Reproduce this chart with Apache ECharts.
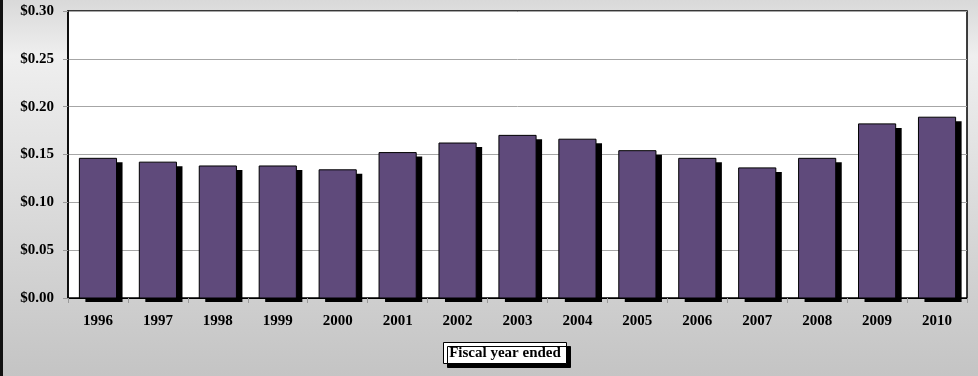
<!DOCTYPE html>
<html>
<head>
<meta charset="utf-8">
<script src="https://cdn.jsdelivr.net/npm/echarts@6/dist/echarts.min.js"></script>
<style>
  html, body { margin: 0; padding: 0; }
  #chart { width: 978px; height: 376px; }
</style>
</head>
<body>
<div id="chart"></div>
<script>
// Fiscal years shown along the category axis
const years = ['1996', '1997', '1998', '1999', '2000', '2001', '2002', '2003',
               '2004', '2005', '2006', '2007', '2008', '2009', '2010'];
// Amount per year, in dollars
const amounts = [0.146, 0.142, 0.138, 0.138, 0.134, 0.152, 0.162, 0.170,
                 0.166, 0.154, 0.146, 0.136, 0.146, 0.182, 0.189];
// Value axis ticks
const yTicks = [0, 0.05, 0.10, 0.15, 0.20, 0.25, 0.30];
const axisTitle = 'Fiscal year ended';

const serif = '"Liberation Serif", "Times New Roman", serif';

const chart = echarts.init(document.getElementById('chart'), null, { renderer: 'canvas' });

// Bar with a solid drop shadow offset to the lower right
function renderBar(params, api) {
  const idx = api.value(0);
  const val = api.value(1);
  const top = api.coord([idx, val]);
  const base = api.coord([idx, 0]);
  const w = api.size([1, 0])[0] * 0.62;
  const x0 = top[0] - w / 2;
  const h = base[1] - top[1];
  return {
    type: 'group',
    children: [{
      type: 'rect',
      shape: { x: x0 + 6, y: top[1] + 4, width: w, height: h },
      style: { fill: '#000' }
    }, {
      type: 'rect',
      shape: { x: x0, y: top[1], width: w, height: h },
      style: { fill: '#5f4a7b', stroke: '#000', lineWidth: 1 }
    }]
  };
}

chart.setOption({
  animation: false,
  backgroundColor: {
    type: 'linear', x: 0, y: 0, x2: 0, y2: 1,
    colorStops: [
      { offset: 0, color: '#d9d9d9' },
      { offset: 0.15, color: '#efefef' },
      { offset: 1, color: '#c4c4c4' }
    ]
  },
  grid: {
    left: 68, right: 11, top: 11, bottom: 78,
    show: true,
    backgroundColor: '#ffffff',
    borderColor: '#000000',
    borderWidth: 1.5
  },
  xAxis: {
    type: 'category',
    data: years,
    axisLine: { lineStyle: { color: '#000', width: 1 } },
    axisTick: { show: true, alignWithLabel: false, length: 5, lineStyle: { color: '#999' } },
    axisLabel: {
      margin: 16,
      color: '#000',
      fontFamily: serif,
      fontWeight: 'bold',
      fontSize: 15
    }
  },
  yAxis: {
    type: 'value',
    min: yTicks[0],
    max: yTicks[yTicks.length - 1],
    interval: yTicks[1] - yTicks[0],
    axisLine: { show: true, lineStyle: { color: '#000', width: 1.5 } },
    axisTick: { show: true, length: 5, lineStyle: { color: '#999' } },
    splitLine: { lineStyle: { color: '#a6a6a6', width: 1 } },
    axisLabel: {
      margin: 14,
      color: '#000',
      fontFamily: serif,
      fontWeight: 'bold',
      fontSize: 15,
      formatter: v => '$' + v.toFixed(2)
    }
  },
  series: [{
    type: 'custom',
    renderItem: renderBar,
    clip: false,
    encode: { x: 0, y: 1 },
    data: amounts.map((v, i) => [i, v])
  }],
  graphic: [{
    type: 'group',
    left: 443, top: 342,
    children: [{
      type: 'rect',
      shape: { x: 0, y: 0, width: 123, height: 21 },
      style: {
        fill: '#fff', stroke: '#000', lineWidth: 1,
        shadowColor: '#000', shadowBlur: 0, shadowOffsetX: 4, shadowOffsetY: 4
      }
    }, {
      type: 'text',
      x: 61.5, y: 11,
      style: {
        text: axisTitle,
        fill: '#000',
        font: 'bold 15px ' + serif,
        align: 'center',
        verticalAlign: 'middle'
      }
    }]
  }, {
    type: 'rect',
    left: 0, top: 0,
    shape: { x: 0, y: 0, width: 3, height: 376 },
    style: { fill: '#111' }
  }]
});
</script>
</body>
</html>
